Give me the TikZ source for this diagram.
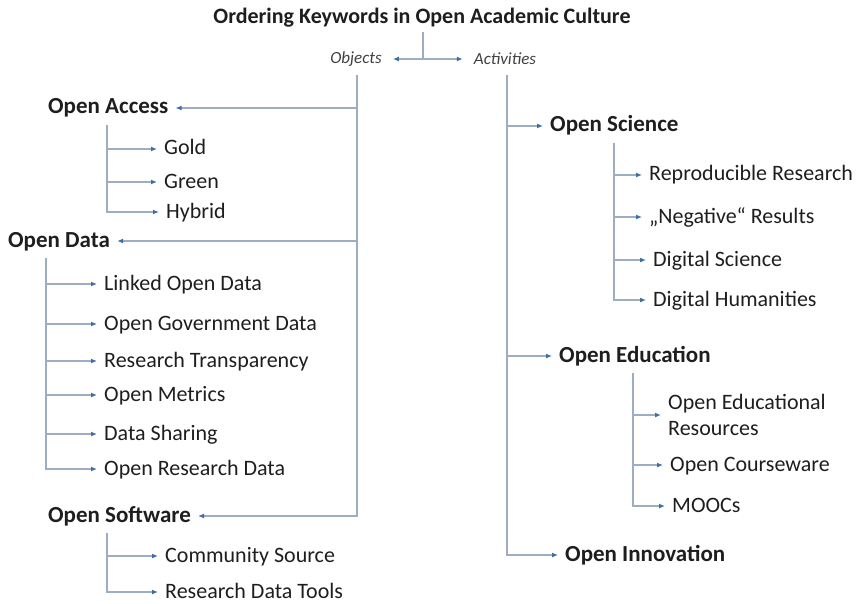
\documentclass[tikz,border=0pt]{standalone}
\usepackage{fontspec}
\setmainfont{Carlito}
\usetikzlibrary{arrows.meta}
\definecolor{linegray}{HTML}{9DAEC2}
\definecolor{tipblue}{HTML}{3E6EA6}
\definecolor{textdark}{HTML}{1E1E1E}
\begin{document}
\begin{tikzpicture}[
        x=1pt, y=-1pt,
        titlestyle/.style={inner sep=4pt, text=textdark,
            font=\fontsize{22}{25}\selectfont\bfseries},
        branch/.style={inner sep=8pt, text=textdark!85,
            font=\fontsize{17}{20}\selectfont\itshape},
        head/.style={anchor=west, inner sep=4pt, text=textdark,
            text height=16pt, text depth=4pt,
            font=\fontsize{23}{26}\selectfont\bfseries},
        item/.style={anchor=west, inner sep=4pt, text=textdark,
            text height=16pt, text depth=4pt,
            font=\fontsize{22}{25}\selectfont},
        conn/.style={draw=linegray, line width=1.2pt},
        linestyle/.style={
            conn,
            -{Latex[length=6pt,width=5pt,color=tipblue]},
            shorten >=3pt,}
        ]
        \useasboundingbox (0,0) rectangle (861,604);

        \node[titlestyle] (title) at (422,18) {Ordering Keywords in Open Academic Culture};
        \node[branch] (obj) at (356,59) {Objects};
        \node[branch] (act) at (505,59) {Activities};
        \coordinate (tee) at (423,59);
        \draw[conn] (title.south -| tee) -- (tee);
        \draw[linestyle] (tee) -- (obj);
        \draw[linestyle] (tee) -- (act);

        % objects
        \node[head] (oa) at (44,108) {Open Access};
        \node[head] (od) at (4,241) {Open Data};
        \node[head] (os) at (44,516) {Open Software};
        \coordinate (objtrunk) at (357,75);
        \foreach \n in {oa,od,os}
            \draw[linestyle] (objtrunk) |- (\n);

        \node[item] (gold) at (160,149) {Gold};
        \node[item] (green) at (160,182) {Green};
        \node[item] (hybrid) at (162,212) {Hybrid};
        \coordinate (oatrunk) at (107,125);
        \foreach \n in {gold,green,hybrid}
            \draw[linestyle] (oatrunk) |- (\n);

        \node[item] (lod) at (100,284) {Linked Open Data};
        \node[item] (ogd) at (100,324) {Open Government Data};
        \node[item] (rt) at (100,361) {Research Transparency};
        \node[item] (om) at (100,395) {Open Metrics};
        \node[item] (dsh) at (100,434) {Data Sharing};
        \node[item] (ord) at (100,469) {Open Research Data};
        \coordinate (odtrunk) at (46,258);
        \foreach \n in {lod,ogd,rt,om,dsh,ord}
            \draw[linestyle] (odtrunk) |- (\n);

        \node[item] (cs) at (161,556) {Community Source};
        \node[item] (rdt) at (161,592) {Research Data Tools};
        \coordinate (ostrunk) at (107,533);
        \foreach \n in {cs,rdt}
            \draw[linestyle] (ostrunk) |- (\n);

        % activities
        \node[head] (osc) at (546,126) {Open Science};
        \node[head] (oe) at (555,356) {Open Education};
        \node[head] (oi) at (561,555) {Open Innovation};
        \coordinate (acttrunk) at (507,75);
        \foreach \n in {osc,oe,oi}
            \draw[linestyle] (acttrunk) |- (\n);

        \node[item] (rr) at (645,175) {Reproducible Research};
        \node[item] (neg) at (645,217) {„Negative“ Results};
        \node[item] (dsc) at (649,260) {Digital Science};
        \node[item] (dh) at (649,300) {Digital Humanities};
        \coordinate (osctrunk) at (614,143);
        \foreach \n in {rr,neg,dsc,dh}
            \draw[linestyle] (osctrunk) |- (\n);

        \node[item, text height=, text depth=, align=left, font=\fontsize{22}{26}\selectfont] (oer) at (664,415) {Open Educational\\Resources};
        \node[item] (oc) at (666,465) {Open Courseware};
        \node[item] (mooc) at (668,506) {MOOCs};
        \coordinate (oetrunk) at (633,373);
        \foreach \n in {oer,oc,mooc}
            \draw[linestyle] (oetrunk) |- (\n);

    \end{tikzpicture}
\end{document}
